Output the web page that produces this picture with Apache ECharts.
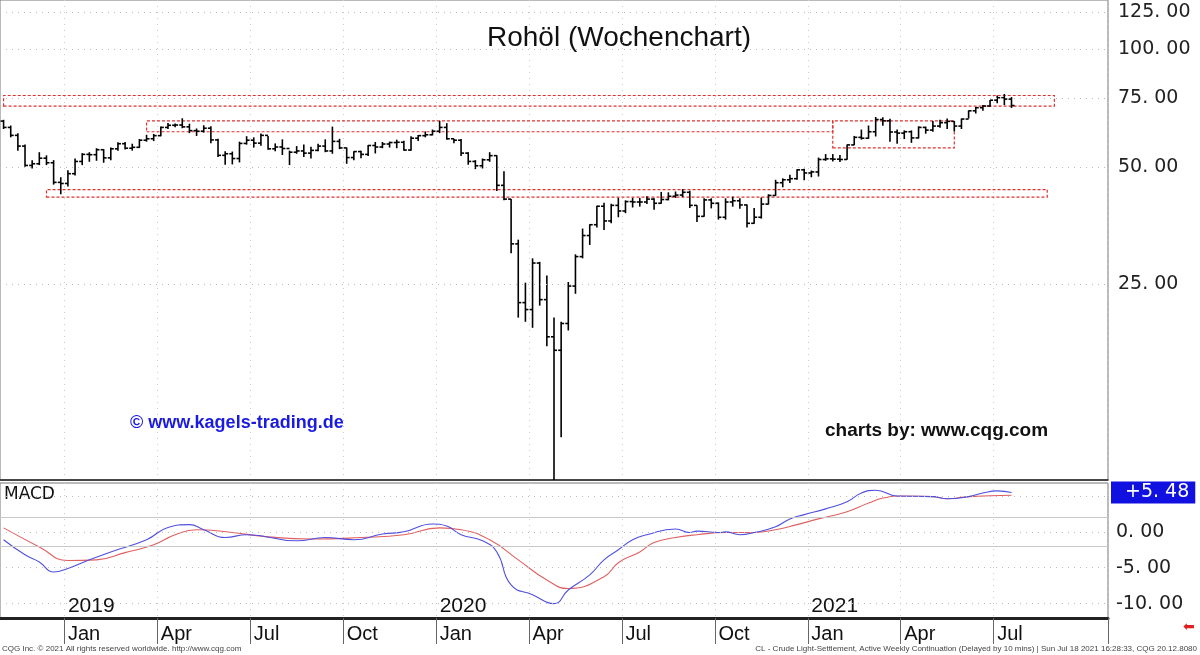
<!DOCTYPE html>
<html><head><meta charset="utf-8">
<script src="https://cdn.jsdelivr.net/npm/echarts@6/dist/echarts.min.js"></script>
<style>html,body{margin:0;padding:0;background:#fff}#c{width:1200px;height:655px}</style>
</head><body><div id="c"></div>
<script>
const opens = [65.5,63.1,60.2,56.5,50.4,50.9,52.6,51.2,45.6,
45.3,48.0,51.6,53.8,53.7,55.3,52.7,55.6,57.3,55.8,56.1,58.5,59.0,60.1,63.1,63.9,64.0,63.3,61.9,61.7,62.8,58.6,53.5,54.0,52.5,57.4,58.5,57.5,60.2,55.6,56.2,55.7,54.5,54.9,54.2,55.1,56.5,54.9,58.1,55.9,52.8,54.7,53.8,56.7,56.2,57.2,57.7,57.8,55.2,59.2,60.1,60.4,
61.7,63.1,59.0,58.5,54.2,51.6,50.3,52.1,53.4,44.8,41.3,31.7,22.4,21.5,28.3,22.8,18.3,16.9,19.8,24.7,29.4,33.3,35.5,39.6,36.3,39.8,38.5,40.7,40.6,40.6,41.3,40.3,41.2,42.0,42.3,43.0,39.8,37.3,41.1,40.3,37.1,40.6,40.9,39.9,35.8,37.1,40.1,42.2,45.5,46.3,46.6,49.1,48.2,
48.5,52.2,52.4,52.3,52.2,56.9,59.5,59.2,61.5,66.1,65.6,61.4,61.0,61.5,59.3,63.1,62.1,63.6,64.9,65.4,63.6,66.3,69.6,70.9,71.6,74.1,75.2,74.6];
const closes = [63.1,60.2,56.5,50.4,50.9,52.6,51.2,45.6,45.3,
48.0,51.6,53.8,53.7,55.3,52.7,55.6,57.3,55.8,56.1,58.5,59.0,60.1,63.1,63.9,64.0,63.3,61.9,61.7,62.8,58.6,53.5,54.0,52.5,57.4,58.5,57.5,60.2,55.6,56.2,55.7,54.5,54.9,54.2,55.1,56.5,54.9,58.1,55.9,52.8,54.7,53.8,56.7,56.2,57.2,57.7,57.8,55.2,59.2,60.1,60.4,61.7,
63.1,59.0,58.5,54.2,51.6,50.3,52.1,53.4,44.8,41.3,31.7,22.4,21.5,28.3,22.8,18.3,16.9,19.8,24.7,29.4,33.3,35.5,39.6,36.3,39.8,38.5,40.7,40.6,40.6,41.3,40.3,41.2,42.0,42.3,43.0,39.8,37.3,41.1,40.3,37.1,40.6,40.9,39.9,35.8,37.1,40.1,42.2,45.5,46.3,46.6,49.1,48.2,48.5,
52.2,52.4,52.3,52.2,56.9,59.5,59.2,61.5,66.1,65.6,61.4,61.0,61.5,59.3,63.1,62.1,63.6,64.9,65.4,63.6,66.3,69.6,70.9,71.6,74.1,75.2,74.6,71.8];
const highs = [66.0,63.8,61.0,57.0,52.0,54.5,53.5,52.0,47.0,
49.0,52.5,54.2,54.5,55.8,55.5,56.0,57.8,57.9,57.3,58.9,60.4,60.7,63.4,64.8,64.6,66.6,64.5,62.7,63.9,63.5,59.0,54.8,54.7,58.0,59.9,59.5,60.9,60.0,57.4,58.8,55.0,56.5,57.0,56.3,57.3,58.8,63.4,59.0,56.0,54.8,55.0,56.9,57.9,57.9,58.0,58.7,58.3,59.9,60.3,61.6,62.3,
65.6,64.7,59.0,58.9,54.5,52.0,52.5,54.5,53.5,48.7,41.3,32.5,25.2,29.1,28.5,26.3,20.5,20.0,25.3,29.8,34.7,35.6,39.7,40.4,40.2,41.6,41.0,41.6,41.6,42.0,41.5,43.1,43.0,43.2,43.8,43.4,39.8,41.5,41.5,40.5,41.5,41.9,41.5,40.0,39.2,41.7,42.5,46.3,46.7,47.7,49.3,49.4,48.9,
52.8,53.9,53.9,53.6,57.0,60.0,62.3,63.8,67.1,67.0,66.4,62.3,62.0,62.0,63.5,63.4,65.5,66.0,66.5,65.5,66.5,69.8,71.2,72.0,74.2,76.2,76.9,75.5];
const lows = [62.5,59.5,55.0,50.0,49.5,50.5,50.5,45.0,42.5,
44.5,47.5,50.5,51.5,51.8,51.2,52.0,55.0,55.4,55.0,55.9,58.0,58.2,59.9,62.5,63.2,62.8,61.0,60.0,61.2,57.5,53.0,50.6,50.7,51.3,57.0,56.0,56.6,55.3,54.8,53.6,50.5,54.0,53.0,52.5,54.8,54.5,54.0,55.5,50.9,52.0,52.6,53.3,54.1,55.8,56.0,55.8,55.0,55.0,58.2,59.5,60.2,
61.0,58.7,57.5,53.3,50.6,49.3,49.5,51.5,43.3,41.0,30.0,20.5,20.0,19.3,22.0,17.3,1,10.1,19.0,23.6,29.1,31.5,34.9,34.4,35.8,37.1,38.0,39.3,39.5,40.1,38.8,40.2,41.0,41.6,41.8,39.2,36.1,37.2,39.1,36.6,36.6,39.5,39.0,34.9,35.7,36.8,40.0,42.1,44.3,45.4,46.3,46.2,47.0,
47.2,51.8,51.6,51.4,52.1,56.8,58.7,59.0,59.8,63.7,58.0,57.3,58.9,57.6,59.1,60.8,61.5,63.0,62.5,61.6,62.5,66.5,68.5,69.6,71.3,72.8,72.0,70.8];
// MACD readings [week index, value]
const macdLine = [[0,-1.1],[3,-3.2],[5,-4.2],[7,-5.6],[9,-5.1],[12,-3.9],[15,-2.8],[20,-1.1],[23,0.6],[26,1.0],[28,0.3],[31,-0.8],[34,-0.4],[41,-1.25],[45,-0.8],[49,-1.1],[53,-0.3],[56,0],[60,1.1],[62,0.8],[64,-0.4],[67,-1.25],[69,-2.8],[71,-7.4],[74,-8.75],[77,-10],[79,-8.1],[82,-6],[84,-3.9],[86,-2.5],[88,-1.1],[90,-0.4],[94,0.4],[96,-0.1],[97,0.1],[100,-0.1],[101,0],[103,-0.4],[105,-0.1],[108,0.7],[110,1.8],[112,2.4],[115,3.2],[118,4.2],[120,5.4],[122,5.8],[125,5.0],[130,4.9],[132,4.6],[135,4.9],[137,5.4],[139,5.7],[141,5.48]];
const signalLine = [[0,0.55],[5,-2.1],[9,-4.0],[13,-3.9],[17,-2.9],[21,-1.8],[24,-0.4],[27,0.3],[32,-0.1],[37,-0.7],[43,-1.0],[50,-0.8],[56,-0.4],[61,0.55],[64,0.3],[68,-1.1],[72,-3.9],[76,-6.7],[79,-7.9],[84,-6.25],[86,-4.3],[89,-2.8],[91,-1.5],[94,-0.8],[97,-0.4],[101,-0.1],[105,-0.1],[108,0.3],[111,1.0],[114,1.8],[118,2.8],[121,4.0],[123,4.7],[126,5.0],[130,4.9],[132,4.6],[135,4.9],[141,5.1]];
const lastMacd = 5.48;
const priceTicks = [25,50,75,100,125];
const macdTicks = [0,-5,-10];
const monthNames = ['Jan','Feb','Mar','Apr','May','Jun','Jul','Aug','Sep','Oct','Nov','Dec'];
const nSlots = 155;

const cats = [];
for (let i=0;i<nSlots;i++){ const d=new Date(Date.UTC(2018,10,2)+i*7*86400000); cats.push(d.toISOString().slice(0,10)); }
const mon = s => +s.slice(5,7)-1;
const qFn = (i)=> i>0 && i<150 && mon(cats[i])!==mon(cats[i-1]) && mon(cats[i])%3===0;
const janFn = (i)=> i>0 && mon(cats[i])===0 && mon(cats[i-1])===11;
const ohlc = opens.map((o,i)=>[i,o,closes[i],lows[i],highs[i]]);

const red='#e03030';
const box = (a,b,p1,p2)=>[{xAxis:cats[a],yAxis:p1},{xAxis:cats[b],yAxis:p2}];
const fmt = v => v.toFixed(2).replace('.','. ');
const chart = echarts.init(document.getElementById('c'));
chart.setOption({
  animation:false,
  grid:[{left:0,right:92,top:0,height:480,show:true,borderColor:'#777',borderWidth:1},
        {left:0,right:92,top:483,height:135,show:true,borderColor:'#777',borderWidth:1}],
  xAxis:[
    {type:'category',gridIndex:0,data:cats,boundaryGap:true,axisLabel:{show:false},axisTick:{show:false},axisLine:{onZero:false,lineStyle:{color:'#222',width:1.5}},
     splitLine:{show:true,interval:qFn,lineStyle:{color:'#ccc',type:[1,5]}}},
    {type:'category',gridIndex:1,data:cats,boundaryGap:true,
     axisLine:{onZero:false,lineStyle:{color:'#222',width:3}},
     axisTick:{show:true,interval:qFn,length:26,lineStyle:{color:'#666'}},
     axisLabel:{interval:qFn,formatter:v=>monthNames[mon(v)],align:'left',fontSize:20,color:'#111',margin:6,fontFamily:'Liberation Sans'},
     splitLine:{show:true,interval:qFn,lineStyle:{color:'#ccc',type:[1,5]}}},
    {type:'category',gridIndex:1,data:cats,boundaryGap:true,position:'bottom',
     axisLine:{show:false,onZero:false},axisTick:{show:false},splitLine:{show:false},
     axisLabel:{interval:janFn,inside:true,formatter:v=>v.slice(0,4),align:'left',fontSize:21,color:'#111',margin:1,fontFamily:'Liberation Sans'}}
  ],
  yAxis:[
    {type:'log',gridIndex:0,min:7.85,max:134,position:'right',axisLabel:{show:false},axisTick:{show:false},axisLine:{show:false},splitLine:{show:false}},
    {type:'value',gridIndex:1,min:-12,max:6.8,position:'right',axisLabel:{show:false},axisTick:{show:false},axisLine:{show:false},splitLine:{show:false}}
  ],
  series:[
    {type:'custom',xAxisIndex:0,yAxisIndex:0,data:ohlc,encode:{x:0,y:[1,2,3,4]},
     renderItem:(params,api)=>{
       const x=api.value(0), cs=params.coordSys;
       const o=api.coord([x,api.value(1)]), c=api.coord([x,api.value(2)]), l=api.coord([x,api.value(3)]), h=api.coord([x,api.value(4)]);
       const ly=Math.min(l[1],cs.y+cs.height), w=3, st={stroke:'#000',lineWidth:1.6};
       return {type:'group',children:[
         {type:'line',shape:{x1:h[0],y1:h[1],x2:h[0],y2:ly},style:st},
         {type:'line',shape:{x1:o[0]-w,y1:o[1],x2:o[0],y2:o[1]},style:st},
         {type:'line',shape:{x1:c[0],y1:c[1],x2:c[0]+w,y2:c[1]},style:st}]};
     },
     markLine:{silent:true,symbol:'none',data:priceTicks.map(v=>({yAxis:v})),lineStyle:{color:'#bbb',type:[1,5],width:1},
       label:{position:'end',distance:10,formatter:p=>fmt(p.value),fontSize:19,color:'#222',fontFamily:'DejaVu Sans'}},
     markArea:{silent:true,itemStyle:{color:'rgba(0,0,0,0)',borderColor:red,borderWidth:1.2,borderType:[3,2]},
       data:[box(0,147,71.6,76.2),box(20,116,61.5,65.6),box(116,133,55.9,65.6),box(6,146,41.8,43.7)]}
    },
    {type:'line',xAxisIndex:1,yAxisIndex:1,data:signalLine,smooth:true,showSymbol:false,lineStyle:{color:'#e06060',width:1.1},
     markLine:{silent:true,symbol:'none',data:[{yAxis:2},{yAxis:-2}],lineStyle:{color:'#c8c8c8',type:'solid',width:1},label:{show:false}}},
    {type:'line',xAxisIndex:1,yAxisIndex:1,data:macdLine,smooth:true,showSymbol:false,lineStyle:{color:'#5050e0',width:1.1},
     markLine:{silent:true,symbol:'none',lineStyle:{color:'#bbb',type:[1,5],width:1},
       data:macdTicks.map(v=>({yAxis:v})).concat([{yAxis:5,label:{show:false}}]),
       label:{position:'end',distance:8,formatter:p=>fmt(p.value),fontSize:19,color:'#222',fontFamily:'DejaVu Sans'}}},
    {type:'line',xAxisIndex:1,yAxisIndex:1,data:[],
     markLine:{silent:true,symbol:'none',lineStyle:{width:0,color:'#fff'},data:[{yAxis:lastMacd}],
       label:{position:'end',distance:3,formatter:'+'+fmt(lastMacd),backgroundColor:'#1010e0',color:'#fff',padding:[2,6,1,14],fontSize:19,fontFamily:'DejaVu Sans'}}}
  ],
  graphic:[
    {type:'text',left:487,top:24,style:{text:'Rohöl (Wochenchart)',font:'28px "Liberation Sans"',fill:'#111'}},
    {type:'text',left:130,top:414,style:{text:'© www.kagels-trading.de',font:'bold 18px "Liberation Sans"',fill:'#1a1ae0'}},
    {type:'text',left:825,top:421,style:{text:'charts by: www.cqg.com',font:'bold 19px "Liberation Sans"',fill:'#111'}},
    {type:'text',left:4,top:486,style:{text:'MACD',font:'17px "DejaVu Sans"',fill:'#111'}},
    {type:'text',left:2,top:645,style:{text:'CQG Inc. © 2021 All rights reserved worldwide. http://www.cqg.com',font:'8px "Liberation Sans"',fill:'#444'}},
    {type:'text',right:3,top:645,style:{text:'CL - Crude Light-Settlement, Active Weekly Continuation (Delayed by 10 mins) | Sun Jul 18 2021 16:28:33, CQG 20.12.8080',font:'8px "Liberation Sans"',fill:'#444'}},
    {type:'text',left:1183,top:620,style:{text:'⬅',font:'14px "DejaVu Sans"',fill:'#e02020'}}
  ]
});
</script></body></html>
